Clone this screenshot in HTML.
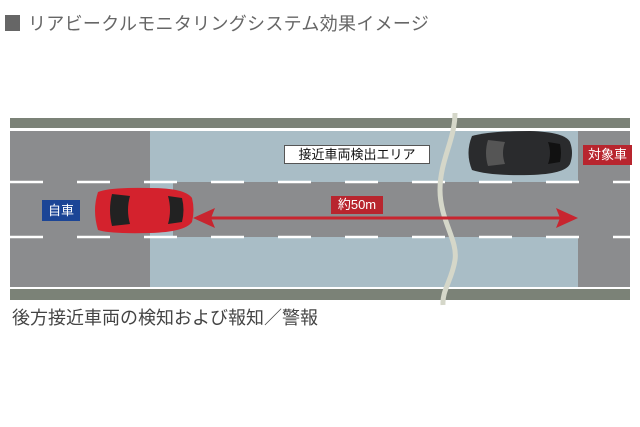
<!DOCTYPE html>
<html><head><meta charset="utf-8"><style>
body{margin:0;width:640px;height:427px;background:#fff;overflow:hidden;position:relative;font-family:"Liberation Sans","Noto Sans CJK JP",sans-serif}
.t{position:absolute;white-space:nowrap}
</style></head><body>
<div class="t" style="left:5px;top:15px;width:15px;height:16px;background:#666"></div>
<div class="t" style="left:28px;top:10px;font-size:18px;color:#666;letter-spacing:0.3px">リアビークルモニタリングシステム効果イメージ</div>
<svg width="640" height="427" style="position:absolute;left:0;top:0">
<rect x="10" y="118" width="620" height="10" fill="#7b8277"/>
<rect x="10" y="131" width="620" height="156" fill="#8b8c8e"/>
<rect x="150" y="131" width="428" height="51" fill="#a9bdc6"/>
<rect x="150" y="237" width="428" height="50" fill="#a9bdc6"/>
<rect x="150" y="182" width="23" height="55" fill="#a9bdc6"/>
<rect x="10" y="289" width="620" height="11" fill="#7b8277"/>
<g stroke="#fff" stroke-width="2.5" stroke-dasharray="33 34">
<line x1="10" y1="182" x2="630" y2="182"/>
<line x1="10" y1="237" x2="630" y2="237"/>
</g>
<path d="M455 113 C455 140,440 160,440 190 C440 220,458 240,455 260 C452 280,442 290,443 305" stroke="#d5d7c9" stroke-width="5" fill="none"/>
<line x1="205" y1="218" x2="566" y2="218" stroke="#c8252f" stroke-width="3"/>
<polygon points="193,218 215,208 211,218 215,228" fill="#c8252f"/>
<polygon points="578,218 556,208 560,218 556,228" fill="#c8252f"/>
<!-- red car -->
<g>
<path d="M98 192 Q92 210 98 230 Q110 234 150 233 Q185 232 192 222 Q195 210 192 198 Q185 188 150 188 Q110 187 98 192Z" fill="#d4222d"/>
<path d="M112 194 Q108 210 112 226 L130 224 Q126 210 130 196Z" fill="#222"/>
<path d="M168 196 Q172 210 168 224 L182 222 Q185 210 182 198Z" fill="#222"/>
</g>
<!-- black car -->
<g>
<path d="M472 136 Q465 153 472 170 Q490 176 530 175 Q565 174 570 164 Q574 153 570 142 Q565 132 530 131 Q490 131 472 136Z" fill="#2a2b2d"/>
<path d="M488 140 Q484 153 488 166 L505 164 Q501 153 505 142Z" fill="#555"/>
<path d="M548 142 Q552 153 548 164 L560 162 Q562 153 560 144Z" fill="#111"/>
</g>
</svg>
<div class="t" style="left:284px;top:145px;width:144px;height:17px;background:#fff;border:1px solid #555;font-size:13px;line-height:17px;text-align:center;color:#111">接近車両検出エリア</div>
<div class="t" style="left:42px;top:200px;width:38px;height:21px;background:#1c4596;color:#fff;font-size:13px;line-height:21px;text-align:center">自車</div>
<div class="t" style="left:583px;top:145px;width:49px;height:20px;background:#b8252e;color:#fff;font-size:13px;line-height:20px;text-align:center">対象車</div>
<div class="t" style="left:331px;top:196px;width:52px;height:18px;background:#b8252e;color:#fff;font-size:13px;line-height:18px;text-align:center">約50m</div>
<div class="t" style="left:12px;top:304px;font-size:18px;color:#444">後方接近車両の検知および報知／警報</div>
</body></html>
